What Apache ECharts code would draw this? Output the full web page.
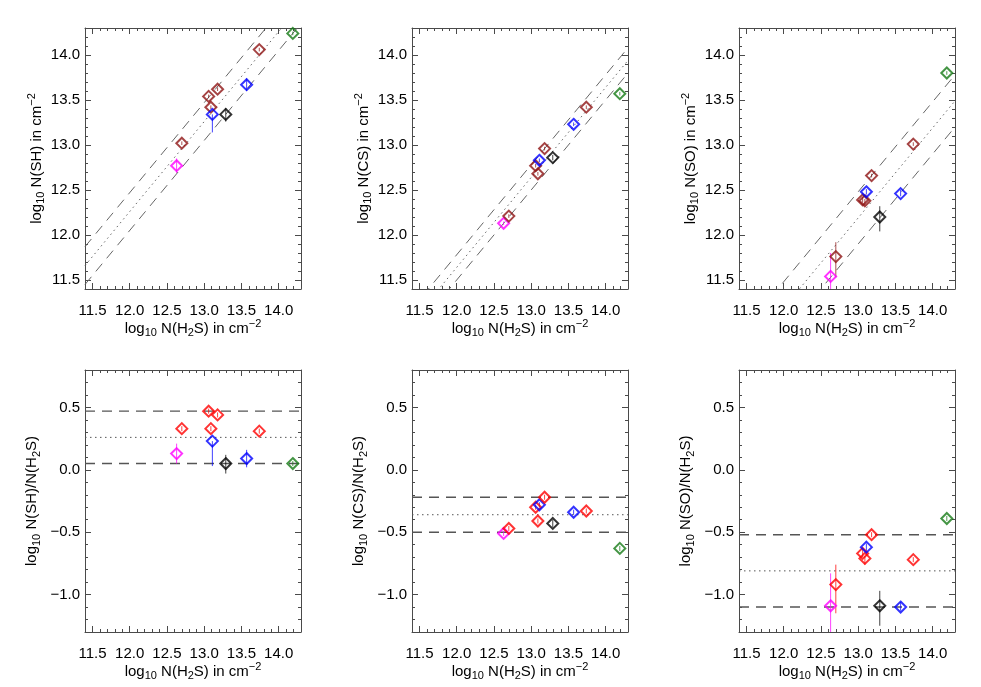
<!DOCTYPE html>
<html>
<head>
<meta charset="utf-8">
<script src="https://cdn.jsdelivr.net/npm/echarts@6/dist/echarts.min.js"></script>
<style>
  html, body { margin: 0; padding: 0; background: #fff; }
  #chart { width: 981px; height: 687px; }
</style>
</head>
<body>
<div id="chart"></div>
<script>
// log10 N(H2S) of the ten sources (x of every panel)
var nH2S = [12.63, 12.70, 13.06, 13.09, 13.11, 13.18, 13.29, 13.57, 13.74, 14.19];

// column densities (top row)
var nSH = [12.77, 13.02, 13.54, 13.42, 13.34, 13.62, 13.34, 13.67, 14.06, 14.24];
var nCS = [12.13, 12.21, 12.77, 12.68, 12.83, 12.96, 12.86, 13.23, 13.42, 13.57];
var nSO = [11.54, 11.76, 12.39, 12.38, 12.48, 12.66, 12.20, 12.46, 13.01, 13.80];

// ratios to H2S (bottom row)
var rSH = [0.13, 0.33, 0.47, 0.33, 0.23, 0.44, 0.05, 0.09, 0.31, 0.05];
var rCS = [-0.51, -0.47, -0.30, -0.41, -0.28, -0.22, -0.43, -0.34, -0.33, -0.63];
var rSO = [-1.09, -0.92, -0.67, -0.71, -0.62, -0.52, -1.09, -1.10, -0.72, -0.39];

// error bars (minus / plus)
var eSHlo = [0.08, 0.02, 0.02, 0.02, 0.20, 0.02, 0.08, 0.07, 0.02, 0.02];
var eSHhi = [0.08, 0.02, 0.02, 0.02, 0.00, 0.02, 0.07, 0.07, 0.02, 0.02];
var eCSlo = [0.02, 0.02, 0.02, 0.02, 0.02, 0.02, 0.03, 0.02, 0.02, 0.02];
var eCShi = [0.02, 0.02, 0.02, 0.02, 0.02, 0.02, 0.03, 0.02, 0.02, 0.02];
var eSOlo = [0.26, 0.23, 0.03, 0.05, 0.03, 0.02, 0.16, 0.03, 0.02, 0.02];
var eSOhi = [0.26, 0.16, 0.03, 0.02, 0.03, 0.02, 0.12, 0.04, 0.02, 0.02];

// mean ratio and its spread: [low, mean, high]
var fitSH = [0.05, 0.26, 0.47];
var fitCS = [-0.50, -0.36, -0.22];
var fitSO = [-1.10, -0.81, -0.52];

// axes
var xRange = [11.4, 14.3];
var colRange = [11.4, 14.3];
var ratioRange = [-1.3, 0.8];
var xTicks = [11.5, 12.0, 12.5, 13.0, 13.5, 14.0];
var colTicks = [11.5, 12.0, 12.5, 13.0, 13.5, 14.0];
var ratioTicks = [-1.0, -0.5, 0.0, 0.5];

var colorsTop = ['#ff00ff', '#8e1414', '#8e1414', '#8e1414', '#0000ff', '#8e1414', '#000000', '#0000ff', '#8e1414', '#157a15'];
var colorsBottom = ['#ff00ff', '#ff0000', '#ff0000', '#ff0000', '#0000ff', '#ff0000', '#000000', '#0000ff', '#ff0000', '#157a15'];

var FONT = '"Liberation Sans", Arial, sans-serif';
var AXIS_COLOR = '#4a4a4a';
var rich = {
    t: { fontSize: 15, lineHeight: 20, fontFamily: FONT, color: '#000' },
    s: { fontSize: 11, lineHeight: 10, verticalAlign: 'bottom', fontFamily: FONT, color: '#000' },
    p: { fontSize: 11, lineHeight: 10, verticalAlign: 'top', fontFamily: FONT, color: '#000' }
};
var xName = '{t|log}{s|10}{t| N(H}{s|2}{t|S) in cm}{p|\u22122}';

function minorTicks(range) {
    var out = [];
    for (var v = Math.round(range[0] * 10); v <= Math.round(range[1] * 10); v++) out.push(v / 10);
    return out;
}

function fmt(v) {
    var s = Math.abs(v).toFixed(1);
    return (v < -1e-9 ? '\u2212' : '') + s;
}

// 4 axes per direction: main side major/minor, opposite side major/minor
function boxAxes(kind, gi, range, major, name, nameGap) {
    var sides = kind === 'x' ? ['bottom', 'top'] : ['left', 'right'];
    var minor = minorTicks(range);
    var out = [];
    sides.forEach(function (side, si) {
        [major, minor].forEach(function (ticks, ti) {
            var main = si === 0 && ti === 0;
            out.push({
                type: 'value', gridIndex: gi, position: side,
                min: range[0], max: range[1],
                axisLine: { show: ti === 0, onZero: false, lineStyle: { color: AXIS_COLOR, width: 1 } },
                axisTick: { show: true, inside: true, length: ti === 0 ? 6 : 3, customValues: ticks,
                    lineStyle: { color: AXIS_COLOR, width: 1 } },
                axisLabel: main ? { show: true, customValues: major, formatter: fmt, fontSize: 15,
                    fontFamily: FONT, color: '#000', margin: kind === 'x' ? 14 : 5 } : { show: false },
                splitLine: { show: false },
                name: main ? name : '',
                nameLocation: 'middle',
                nameGap: nameGap,
                nameRotate: kind === 'y' ? 90 : 0,
                nameTextStyle: { rich: rich }
            });
        });
    });
    return out;
}

var panels = [
    { left: 85, top: 28, height: 261, y: nSH, lo: eSHlo, hi: eSHhi, fit: fitSH, ratio: false, range: colRange, ticks: colTicks,
      name: '{t|log}{s|10}{t| N(SH) in cm}{p|\u22122}', gap: 38 },
    { left: 412, top: 28, height: 261, y: nCS, lo: eCSlo, hi: eCShi, fit: fitCS, ratio: false, range: colRange, ticks: colTicks,
      name: '{t|log}{s|10}{t| N(CS) in cm}{p|\u22122}', gap: 38 },
    { left: 739, top: 28, height: 261, y: nSO, lo: eSOlo, hi: eSOhi, fit: fitSO, ratio: false, range: colRange, ticks: colTicks,
      name: '{t|log}{s|10}{t| N(SO) in cm}{p|\u22122}', gap: 38 },
    { left: 85, top: 370, height: 262, y: rSH, lo: eSHlo, hi: eSHhi, fit: fitSH, ratio: true, range: ratioRange, ticks: ratioTicks,
      name: '{t|log}{s|10}{t| N(SH)/N(H}{s|2}{t|S)}', gap: 43 },
    { left: 412, top: 370, height: 262, y: rCS, lo: eCSlo, hi: eCShi, fit: fitCS, ratio: true, range: ratioRange, ticks: ratioTicks,
      name: '{t|log}{s|10}{t| N(CS)/N(H}{s|2}{t|S)}', gap: 43 },
    { left: 739, top: 370, height: 262, y: rSO, lo: eSOlo, hi: eSOhi, fit: fitSO, ratio: true, range: ratioRange, ticks: ratioTicks,
      name: '{t|log}{s|10}{t| N(SO)/N(H}{s|2}{t|S)}', gap: 43 }
];

var grids = [], xAxes = [], yAxes = [], series = [];

panels.forEach(function (p, i) {
    grids.push({ left: p.left, top: p.top, width: 216, height: p.height, containLabel: false });
    xAxes = xAxes.concat(boxAxes('x', i, xRange, xTicks, xName, 29));
    yAxes = yAxes.concat(boxAxes('y', i, p.range, p.ticks, p.name, p.gap));
    var colors = p.ratio ? colorsBottom : colorsTop;
    var ax = 4 * i;

    // reference lines: dashed spread, dotted mean
    p.fit.forEach(function (off, k) {
        var data = p.ratio
            ? [[xRange[0], off], [xRange[1], off]]
            : [[xRange[0], xRange[0] + off], [xRange[1], xRange[1] + off]];
        series.push({
            type: 'line', xAxisIndex: ax, yAxisIndex: ax, data: data, symbol: 'none', clip: true, silent: true,
            lineStyle: { color: p.ratio ? '#555' : '#666', width: p.ratio && k !== 1 ? 1.4 : 1, type: k === 1 ? [1.5, 3.5] : [10, 7] },
            z: 1
        });
    });

    // error bars
    series.push({
        type: 'custom', xAxisIndex: ax, yAxisIndex: ax, clip: true, silent: true, z: 2,
        data: nH2S.map(function (x, k) { return [x, p.y[k] - p.lo[k], p.y[k] + p.hi[k], k]; }),
        renderItem: function (params, api) {
            var a = api.coord([api.value(0), api.value(1)]);
            var b = api.coord([api.value(0), api.value(2)]);
            return {
                type: 'line',
                shape: { x1: a[0], y1: a[1], x2: b[0], y2: b[1] },
                style: { stroke: colors[api.value(3)], lineWidth: 1, opacity: 0.75 }
            };
        }
    });

    // hollow diamonds
    series.push({
        type: 'scatter', xAxisIndex: ax, yAxisIndex: ax, symbol: 'diamond', symbolSize: 11, silent: true, z: 5,
        itemStyle: { color: 'rgba(255,255,255,0)', borderWidth: 2 },
        data: nH2S.map(function (x, k) {
            return { value: [x, p.y[k]], itemStyle: { borderColor: colors[k] } };
        })
    });
});

var myChart = echarts.init(document.getElementById('chart'));
myChart.setOption({
    animation: false,
    backgroundColor: '#fff',
    grid: grids,
    xAxis: xAxes,
    yAxis: yAxes,
    series: series
});
</script>
</body>
</html>
